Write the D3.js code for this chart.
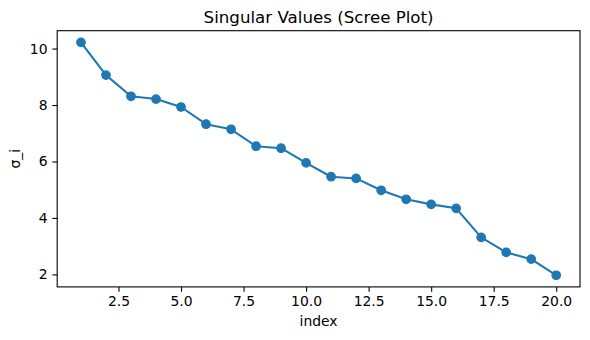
<!DOCTYPE html>
<html>
<head>
<meta charset="utf-8">
<script src="https://cdn.jsdelivr.net/npm/d3@7"></script>
<style>
  html, body { margin: 0; padding: 0; background: #fff; }
  svg { display: block; }
  text { font-family: "DejaVu Sans", sans-serif; fill: #000; }
</style>
</head>
<body>
<svg id="chart" width="590" height="340"></svg>
<script>
const indices = [1,2,3,4,5,6,7,8,9,10,11,12,13,14,15,16,17,18,19,20];
const sigma = [10.22, 9.06, 8.31, 8.21, 7.93, 7.32, 7.14, 6.54, 6.47, 5.95,
               5.46, 5.40, 4.98, 4.66, 4.48, 4.34, 3.31, 2.78, 2.54, 1.97];
const xTicks = [2.5, 5.0, 7.5, 10.0, 12.5, 15.0, 17.5, 20.0];
const yTicks = [2, 4, 6, 8, 10];
const title = "Singular Values (Scree Plot)";
const xLabel = "index";
const yLabel = "σ_i";

const svg = d3.select("#chart");
const L = 57.2, R = 580, T = 30.7, B = 286.9;
const color = "#1f77b4";

const xmin = d3.min(indices), xmax = d3.max(indices);
const xm = (xmax - xmin) * 0.05;
const ymin = d3.min(sigma), ymax = d3.max(sigma);
const ym = (ymax - ymin) * 0.05;

const x = d3.scaleLinear().domain([xmin - xm, xmax + xm]).range([L, R]);
const y = d3.scaleLinear().domain([ymin - ym, ymax + ym]).range([B, T]);

const fs = 13.9;

const xAxis = svg.append("g").attr("transform", `translate(0,${B})`)
  .call(d3.axisBottom(x).tickValues(xTicks).tickFormat(d3.format(".1f")).tickSize(4.86).tickPadding(4.86));
const yAxis = svg.append("g").attr("transform", `translate(${L},0)`)
  .call(d3.axisLeft(y).tickValues(yTicks).tickFormat(d3.format("d")).tickSize(4.86).tickPadding(4.86));
[xAxis, yAxis].forEach(g => {
  g.select(".domain").remove();
  g.selectAll(".tick line").attr("stroke", "#000").attr("stroke-width", 1.1);
  g.selectAll(".tick text").style("font-family", "DejaVu Sans").style("font-size", fs + "px").attr("fill", "#000");
});

// line
const line = d3.line().x((d, i) => x(indices[i])).y(d => y(d));
svg.append("path").datum(sigma)
  .attr("d", line).attr("fill", "none").attr("stroke", color)
  .attr("stroke-width", 2.08).attr("stroke-linejoin", "round").attr("stroke-linecap", "square");

svg.append("g").selectAll("circle").data(sigma).join("circle")
  .attr("cx", (d, i) => x(indices[i])).attr("cy", d => y(d))
  .attr("r", 4.17).attr("fill", color).attr("stroke", color).attr("stroke-width", 1.39);

// frame
svg.append("rect").attr("x", L).attr("y", T).attr("width", R - L).attr("height", B - T)
  .attr("fill", "none").attr("stroke", "#000").attr("stroke-width", 1.1);

svg.append("text").attr("x", (L + R) / 2).attr("y", 23).attr("text-anchor", "middle")
  .style("font-size", "16.67px").text(title);
svg.append("text").attr("x", (L + R) / 2).attr("y", 326).attr("text-anchor", "middle")
  .style("font-size", fs + "px").text(xLabel);
svg.append("text").attr("transform", `translate(20,${(T + B) / 2}) rotate(-90)`).attr("text-anchor", "middle")
  .style("font-size", fs + "px").text(yLabel);
</script>
</body>
</html>
